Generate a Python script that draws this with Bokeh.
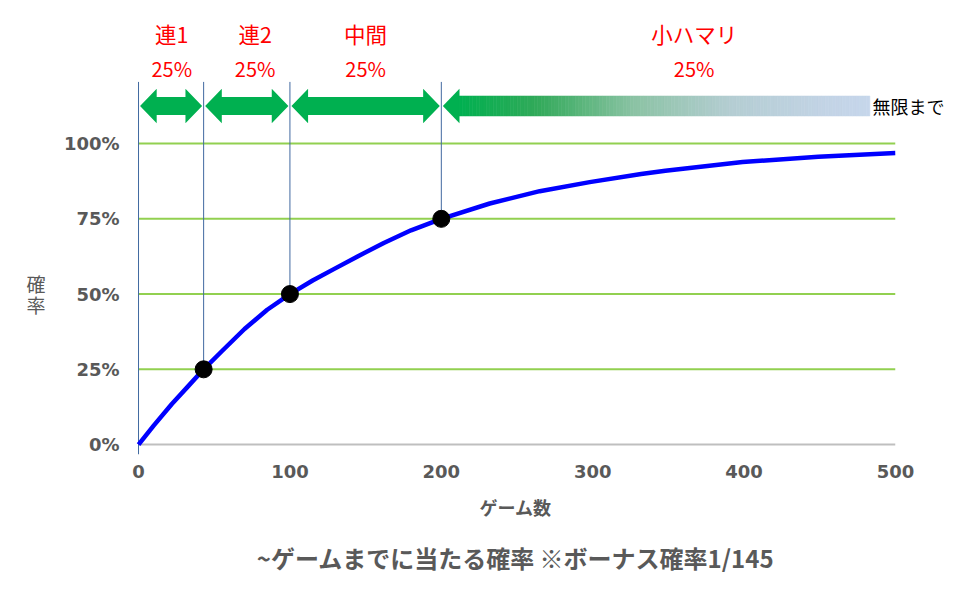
from bokeh.plotting import figure
from bokeh.models import ColumnDataSource, FixedTicker, Range1d, LinearAxis
from bokeh.embed import file_html
from bokeh.resources import INLINE
from bokeh.core.properties import value

# ---------------- data ----------------
curve_x = [0, 10, 22, 33, 43, 55, 70, 85, 100, 115, 129, 145, 162, 180, 200,
           232, 265, 298, 332, 348, 399, 449, 500]
curve_y = [0, 6.3, 13.5, 19.5, 25, 31, 38.4, 44.8, 50, 54.5, 58.3, 62.6, 67, 71.2, 75,
           80.1, 84.2, 87.2, 89.9, 91.0, 93.9, 95.6, 96.9]
point_x = [43, 100, 200]
point_y = [25, 50, 75]

segment_names = ["連1", "連2", "中間", "小ハマリ"]
segment_shares = ["25%", "25%", "25%", "25%"]
segment_label_x = [22, 77, 150, 367]
segment_bounds = [0, 43, 100, 200]
open_end = 483          # where the fading "to infinity" bar stops
infinity_text = "無限まで"

x_ticks = [0, 100, 200, 300, 400, 500]
y_ticks = [0, 25, 50, 75, 100]
y_tick_labels = ["0%", "25%", "50%", "75%", "100%"]
x_label = "ゲーム数"
y_label_chars = ["確", "率"]
y_label_pos = [53.4, 46.4]
title_text = "~ゲームまでに当たる確率 ※ボーナス確率1/145"

# ---------------- styles ----------------
GRAY = "#595959"
GREEN = "#00b050"
RED = "#ff0000"
JP = "Noto Sans CJK JP"
X0, X1 = -2, 500
Y0, Y1 = -3.3, 142.9
ARROW_Y = 112.5
SHAFT = 3.0
HEAD = 5.7
HEAD_LEN = 11
GAP = 1.0
VLINE_TOP = 120.5
NAME_Y = 136.6
SHARE_Y = 125.0

p = figure(width=964, height=598, x_range=Range1d(X0, X1), y_range=Range1d(Y0, Y1),
           output_backend="svg", toolbar_location=None,
           title=title_text, title_location="below",
           min_border_left=135, min_border_right=69, min_border_top=14,
           min_border_bottom=144)
p.outline_line_color = None
p.background_fill_color = "white"
p.border_fill_color = "white"
p.grid.visible = False


def bare(ax):
    ax.axis_line_color = None
    ax.major_tick_line_color = None
    ax.minor_tick_line_color = None


# x axis
p.xaxis.ticker = FixedTicker(ticks=x_ticks)
bare(p.xaxis)
p.xaxis.major_label_text_font = "DejaVu Sans"
p.xaxis.major_label_text_font_size = "18px"
p.xaxis.major_label_text_font_style = "bold"
p.xaxis.major_label_text_color = GRAY
p.xaxis.major_label_standoff = 4
p.xaxis.axis_label = x_label
p.xaxis.axis_label_text_font = JP
p.xaxis.axis_label_text_font_size = "18px"
p.xaxis.axis_label_text_font_style = "bold"
p.xaxis.axis_label_text_color = GRAY
p.xaxis.axis_label_standoff = 13

# y axis (percent ticks)
p.yaxis.ticker = FixedTicker(ticks=y_ticks)
p.yaxis.major_label_overrides = {t: l for t, l in zip(y_ticks, y_tick_labels)}
bare(p.yaxis)
p.yaxis.major_label_text_font = "DejaVu Sans"
p.yaxis.major_label_text_font_size = "18px"
p.yaxis.major_label_text_font_style = "bold"
p.yaxis.major_label_text_color = GRAY
p.yaxis.major_label_standoff = 10

# y axis title "確率", upright stacked characters, centred on the 0-100% span
ylab_axis = LinearAxis(ticker=FixedTicker(ticks=y_label_pos),
                       major_label_overrides={t: c for t, c in zip(y_label_pos, y_label_chars)})
bare(ylab_axis)
ylab_axis.major_label_text_font = JP
ylab_axis.major_label_text_font_size = "19px"
ylab_axis.major_label_text_color = GRAY
ylab_axis.major_label_standoff = 9
p.add_layout(ylab_axis, "left")

# "無限まで" label at the end of the open arrow
inf_axis = LinearAxis(ticker=FixedTicker(ticks=[ARROW_Y]),
                      major_label_overrides={ARROW_Y: infinity_text})
bare(inf_axis)
inf_axis.major_label_text_font = JP
inf_axis.major_label_text_font_size = "18px"
inf_axis.major_label_text_color = "black"
inf_axis.major_label_standoff = -29
p.add_layout(inf_axis, "right")

# title (below)
p.title.text_font = JP
p.title.text_font_size = "24px"
p.title.text_font_style = "bold"
p.title.text_color = GRAY
p.title.align = "center"
p.title.standoff = 31

# green horizontal grid lines and grey baseline
p.segment(x0=[x_ticks[0]] * 4, y0=y_ticks[1:], x1=[x_ticks[-1]] * 4, y1=y_ticks[1:],
          line_color="#92d050", line_width=2)
p.segment(x0=[x_ticks[0]], y0=[y_ticks[0]], x1=[x_ticks[-1]], y1=[y_ticks[0]],
          line_color="#bfbfbf", line_width=2)

# vertical marker lines
p.segment(x0=segment_bounds, x1=segment_bounds,
          y0=[Y0] + point_y, y1=[VLINE_TOP] * len(segment_bounds),
          line_color="#4169a0", line_width=1)

# double arrows
xs, ys = [], []
for a, b in zip(segment_bounds[:-1], segment_bounds[1:]):
    x0, x1 = a + GAP, b - GAP
    xs.append([x0, x0 + HEAD_LEN, x0 + HEAD_LEN, x1 - HEAD_LEN, x1 - HEAD_LEN, x1,
               x1 - HEAD_LEN, x1 - HEAD_LEN, x0 + HEAD_LEN, x0 + HEAD_LEN])
    ys.append([ARROW_Y, ARROW_Y + HEAD, ARROW_Y + SHAFT, ARROW_Y + SHAFT, ARROW_Y + HEAD,
               ARROW_Y, ARROW_Y - HEAD, ARROW_Y - SHAFT, ARROW_Y - SHAFT, ARROW_Y - HEAD])
p.patches(xs, ys, fill_color=GREEN, line_color=None)

# open-ended arrow with gradient
stops = [(0.0, (0, 176, 80)), (0.19, (50, 170, 90)), (0.43, (140, 195, 165)),
         (0.66, (180, 205, 210)), (0.9, (195, 212, 230)), (1.0, (198, 214, 235))]


def grad(t):
    for (t0, c0), (t1, c1) in zip(stops[:-1], stops[1:]):
        if t0 <= t <= t1:
            f = (t - t0) / (t1 - t0)
            return "#%02x%02x%02x" % tuple(int(round(c0[i] + (c1[i] - c0[i]) * f)) for i in range(3))
    return "#%02x%02x%02x" % stops[-1][1]


hx = segment_bounds[-1] + GAP
p.patch([hx, hx + HEAD_LEN, hx + HEAD_LEN], [ARROW_Y, ARROW_Y + HEAD, ARROW_Y - HEAD],
        fill_color=GREEN, line_color=None)
n = 120
bar_l = hx + HEAD_LEN - 0.3
w = (open_end - bar_l) / n
lefts = [bar_l + i * w for i in range(n)]
rights = [l + w * 1.02 for l in lefts]
cols = [grad((i + 0.5) / n) for i in range(n)]
p.quad(left=lefts, right=rights, bottom=ARROW_Y - SHAFT - 0.3, top=ARROW_Y + SHAFT + 0.3,
       fill_color=cols, line_color=cols, line_width=0.6)

# labels above arrows
lab = ColumnDataSource(dict(x=segment_label_x, n=segment_names, s=segment_shares))
p.text(x="x", y=NAME_Y, text="n", source=lab, text_color=RED, text_font=value(JP),
       text_font_size="21.5px", text_align="center", text_baseline="middle")
p.text(x="x", y=SHARE_Y, text="s", source=lab, text_color=RED, text_font=value(JP),
       text_font_size="20px", text_align="center", text_baseline="middle")

# curve and points
p.line(curve_x, curve_y, line_color="#0000ff", line_width=4.5, line_join="round")
p.scatter(point_x, point_y, size=17, fill_color="black", line_color="black")

open("out.html", "w").write(file_html(p, INLINE))
